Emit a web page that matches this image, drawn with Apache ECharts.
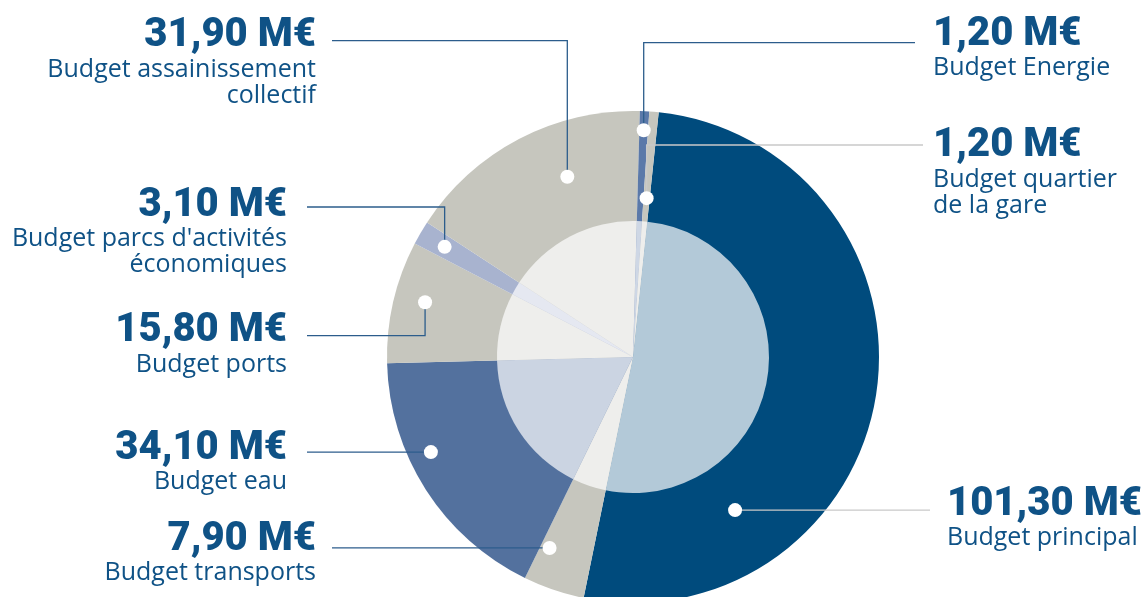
<!DOCTYPE html>
<html>
<head>
<meta charset="utf-8">
<title>Budgets</title>
<script src="https://cdn.jsdelivr.net/npm/echarts@6/dist/echarts.min.js"></script>
<style>
  html, body { margin: 0; padding: 0; background: #fff; }
  #main { width: 1143px; height: 597px; }
</style>
</head>
<body>
<div id="main"></div>
<script>
// budgets in M€, clockwise from the top of the pie
const categories = [
  'Budget principal',
  'Budget transports',
  'Budget eau',
  'Budget ports',
  "Budget parcs d'activités\néconomiques",
  'Budget assainissement\ncollectif',
  'Budget Energie',
  'Budget quartier\nde la gare'
]
const values = [101.3, 7.9, 34.1, 15.8, 3.1, 31.9, 1.2, 1.2]

// styles
const colors = ['#004b7d', '#c6c6be', '#53719e', '#c6c6be', '#a8b3cf', '#c6c6be', '#5b79a9', '#c6c6be']
const lineColors = ['#c9c9c9', '#2c5d8c', '#2c5d8c', '#2c5d8c', '#2c5d8c', '#2c5d8c', '#2c5d8c', '#c9c9c9']
const CX = 633
const CY = 357
const R = 246
const R_IN = 136
const START = 84

// white dot inside each slice: share of the slice angle, share of the radius
const dotT = [0.756, 0.83, 0.62, 0.56, 0.5, 0.63, 0.5, 0.5]
const dotR = [0.748, 0.847, 0.908, 0.874, 0.887, 0.78, 0.923, 0.648]

// label boxes: side, anchor x, baseline of the big value, end of leader line, y of leader (null = dot y)
const labelAt = [
  { side: 'R', x: 947, base: 515, end: 930, lineY: null },
  { side: 'L', x: 316, base: 550, end: 332, lineY: null },
  { side: 'L', x: 287, base: 459, end: 307, lineY: null },
  { side: 'L', x: 287, base: 341.7, end: 307, lineY: 335.7 },
  { side: 'L', x: 287, base: 216, end: 307, lineY: 207 },
  { side: 'L', x: 316, base: 46.7, end: 332, lineY: 40.7 },
  { side: 'R', x: 933, base: 45, end: 915, lineY: 42.7 },
  { side: 'R', x: 933, base: 156.7, end: 923, lineY: 145 }
]

const total = values.reduce((a, b) => a + b, 0)
const cum = []
values.reduce((acc, v, i) => { cum[i] = acc; return acc + v }, 0)

function mixWhite(hex, t) {
  const n = parseInt(hex.slice(1), 16)
  const ch = [(n >> 16) & 255, (n >> 8) & 255, n & 255].map(c => Math.round(c * (1 - t) + 255 * t))
  return 'rgb(' + ch.join(',') + ')'
}

const dotData = values.map((v, i) => [dotR[i], cum[i] + dotT[i] * v])

function dotPixel(i) {
  const a = (START - dotData[i][1] / total * 360) * Math.PI / 180
  return [CX + R * dotData[i][0] * Math.cos(a), CY - R * dotData[i][0] * Math.sin(a)]
}

function fmt(v) {
  return v.toFixed(2).replace('.', ',') + ' M€'
}

const textColor = '#0f5286'
const valueFont = { fontFamily: 'Roboto', fontWeight: 900, fontSize: 40, lineHeight: 41, color: textColor }
const nameFont = { fontFamily: 'Open Sans', fontSize: 25, lineHeight: 26, color: textColor }

const pieBase = {
  type: 'pie',
  center: [CX, CY],
  startAngle: START,
  clockwise: true,
  silent: true,
  emphasis: { disabled: true }
}

const chart = echarts.init(document.getElementById('main'))
chart.setOption({
  animation: false,
  backgroundColor: '#fff',
  textStyle: { fontFamily: 'Roboto' },
  polar: { center: [CX, CY], radius: R },
  angleAxis: { type: 'value', min: 0, max: total, startAngle: START, clockwise: true, show: false },
  radiusAxis: { type: 'value', min: 0, max: 1, show: false },
  series: [
    Object.assign({}, pieBase, {
      radius: [0, R],
      z: 2,
      label: { show: false },
      labelLine: { show: false },
      data: values.map((v, i) => ({ name: categories[i], value: v, itemStyle: { color: colors[i] } }))
    }),
    Object.assign({}, pieBase, {
      // light inner disc
      radius: [0, R_IN],
      z: 3,
      label: { show: false },
      labelLine: { show: false },
      data: values.map((v, i) => ({ name: categories[i], value: v, itemStyle: { color: mixWhite(colors[i], 0.7) } }))
    }),
    Object.assign({}, pieBase, {
      // transparent copy carrying labels and leader lines above the slices
      radius: [0, R],
      z: 5,
      avoidLabelOverlap: false,
      itemStyle: { color: 'rgba(0,0,0,0)', opacity: 1 },
      data: values.map((v, i) => {
        const side = labelAt[i].side
        return {
          name: categories[i],
          value: v,
          labelLine: { lineStyle: { color: lineColors[i], opacity: 1 } },
          label: {
            formatter: '{v' + side + '|' + fmt(v) + '}\n' +
              categories[i].split('\n').map(s => '{n' + side + '|' + s + '}').join('\n')
          }
        }
      }),
      label: {
        show: true,
        position: 'outside',
        opacity: 1,
        rich: {
          vL: Object.assign({ align: 'right' }, valueFont),
          nL: Object.assign({ align: 'right' }, nameFont),
          vR: Object.assign({ align: 'left' }, valueFont),
          nR: Object.assign({ align: 'left' }, nameFont)
        }
      },
      labelLine: {
        show: true,
        smooth: false,
        lineStyle: { width: 1.3 }
      },
      labelLayout: function (p) {
        const i = p.dataIndex
        const lab = labelAt[i]
        const d = dotPixel(i)
        const y = lab.lineY == null ? d[1] : lab.lineY
        return {
          x: lab.x,
          y: lab.base - 31,
          align: lab.side === 'L' ? 'right' : 'left',
          verticalAlign: 'top',
          labelLinePoints: [d, [d[0], y], [lab.end, y]]
        }
      }
    }),
    {
      type: 'scatter',
      coordinateSystem: 'polar',
      symbol: 'circle',
      symbolSize: 14,
      silent: true,
      z: 10,
      itemStyle: { color: '#ffffff', opacity: 1 },
      data: dotData
    }
  ]
})
</script>
</body>
</html>
